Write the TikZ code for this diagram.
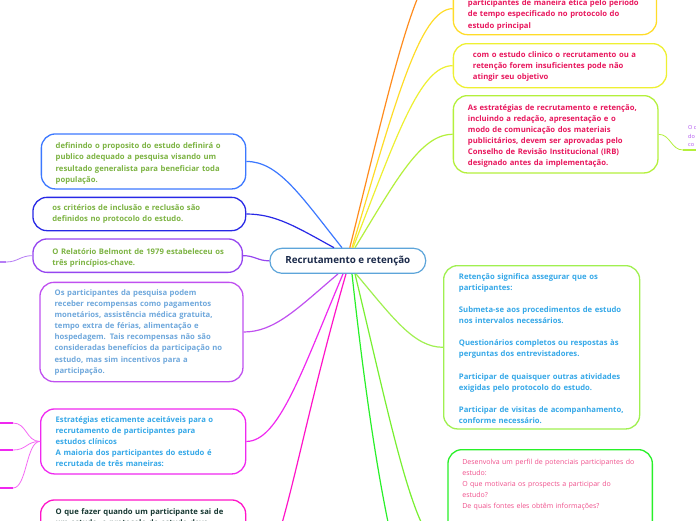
\documentclass[tikz,border=0pt]{standalone}
\usepackage{fontspec}
\setmainfont{Open Sans}
\usepackage{tikz}
\usetikzlibrary{positioning}
\definecolor{TopicLine}{HTML}{5DA5DA}
\definecolor{TopicText}{HTML}{1B2A4A}
\definecolor{Laranja}{HTML}{FF8C1E}
\definecolor{Ouro}{HTML}{FFDC28}
\definecolor{Amarelo}{HTML}{EEF032}
\definecolor{Lima}{HTML}{B4F03C}
\definecolor{VerdeClaro}{HTML}{A0F050}
\definecolor{VerdeLima}{HTML}{78F032}
\definecolor{Verde}{HTML}{28F028}
\definecolor{Azul}{HTML}{3C78FF}
\definecolor{Anil}{HTML}{2828E6}
\definecolor{Roxo}{HTML}{9646F0}
\definecolor{Violeta}{HTML}{C050F0}
\definecolor{Magenta}{HTML}{F028F0}
\definecolor{Rosa}{HTML}{FF14C8}
\definecolor{TextoCarmim}{HTML}{E8175D}
\definecolor{TextoOliva}{HTML}{7CB342}
\definecolor{TextoAco}{HTML}{6FA8DC}
\definecolor{TextoCeu}{HTML}{35A8E8}
\definecolor{TextoEscuro}{HTML}{173832}
\definecolor{TextoRosa}{HTML}{F0508C}
\definecolor{TextoLilas}{HTML}{B050F0}

\begin{document}
\begin{tikzpicture}[x=1pt, y=-1pt,
    topic/.style={draw=TopicLine, line width=1.2pt, rounded corners=12pt, fill=white, minimum width=155.7pt, minimum height=25pt, inner sep=0pt, text=TopicText, font=\bfseries\fontsize{9.8}{11}\selectfont},
    card/.style={line width=1.3pt, rounded corners=14pt, fill=white, anchor=north west, align=left, inner ysep=0pt, font=\bfseries\fontsize{7.7}{11.1}\selectfont},
    pad/.style 2 args={text height=#1, text depth=#2},
    link/.style={line width=1.2pt},
    twig/.style={line width=0.8pt},
    stub/.style={line width=2.6pt}
  ]
  \fill[white] (0,0) rectangle (696,520);
  \useasboundingbox (0,0) rectangle (696,520);

  % Tópico central
  \node[topic] (topico) at (347.8,260.8) {Recrutamento e retenção};

  % Ramos à direita
  \node[card, draw=Ouro, text=TextoCarmim, text width=174pt, inner xsep=14.6pt, pad={23.2pt}{28.8pt}] (etica) at (452.7,-18)
    {participantes de maneira ética pelo período\\de tempo especificado no protocolo do\\estudo principal};
  \node[card, draw=Amarelo, text=TextoCarmim, text width=174pt, inner xsep=19.6pt, pad={13.8pt}{30.2pt}] (insuf) at (452.7,43)
    {com o estudo clinico o recrutamento ou a\\retenção forem insuficientes pode não\\atingir seu objetivo};
  \node[card, draw=Lima, text=TextoCarmim, text width=175.4pt, inner xsep=14.6pt, pad={14.8pt}{62.5pt}] (irb) at (452.7,95)
    {As estratégias de recrutamento e retenção,\\incluindo a redação, apresentação e o\\modo de comunicação dos materiais\\publicitários, devem ser aprovadas pelo\\Conselho de Revisão Institucional (IRB)\\designado antes da implementação.};
  \node[card, draw=VerdeClaro, text=TextoCeu, text width=165.4pt, inner xsep=15.3pt, pad={13.5pt}{149.8pt}] (retencao) at (443,265)
    {Retenção significa assegurar que os\\participantes:\\[11.1pt]Submeta-se aos procedimentos de estudo\\nos intervalos necessários.\\[11.1pt]Questionários completos ou respostas às\\perguntas dos entrevistadores.\\[11.1pt]Participar de quaisquer outras atividades\\exigidas pelo protocolo do estudo.\\[11.1pt]Participar de visitas de acompanhamento,\\conforme necessário.};
  \node[card, draw=Verde, text=TextoRosa, text width=175.6pt, inner xsep=14.4pt, pad={14.5pt}{187.5pt}, font=\mdseries\fontsize{7}{11.2}\selectfont] (perfil) at (447.3,449)
    {Desenvolva um perfil de potenciais participantes do\\estudo:\\O que motivaria os prospects a participar do\\estudo?\\De quais fontes eles obtêm informações?};

  % Ramos à esquerda
  \node[card, draw=Azul, text=TextoOliva, text width=175.7pt, inner xsep=14.3pt, pad={14.9pt}{40.1pt}] (proposito) at (40.7,133.3)
    {definindo o proposito do estudo definirá o\\publico adequado a pesquisa visando um\\resultado generalista para beneficiar toda\\população.};
  \node[card, draw=Anil, text=TextoOliva, text width=173.9pt, inner xsep=19.4pt, pad={13.5pt}{19.8pt}] (criterios) at (32.3,196.7)
    {os critérios de inclusão e reclusão são\\definidos no protocolo do estudo.};
  \node[card, draw=Roxo, text=TextoOliva, text width=170.6pt, inner xsep=19.4pt, pad={15.2pt}{18.2pt}] (belmont) at (32.3,238.3)
    {\mbox{O Relatório Belmont de 1979 estabeleceu os}\\três princípios-chave.};
  \node[card, draw=Violeta, text=TextoAco, text width=173.6pt, inner xsep=14.7pt, pad={13.1pt}{86.2pt}] (recompensas) at (39.3,281.7)
    {Os participantes da pesquisa podem\\receber recompensas como pagamentos\\monetários, assistência médica gratuita,\\tempo extra de férias, alimentação e\\hospedagem. Tais recompensas não são\\consideradas benefícios da participação no\\estudo, mas sim incentivos para a\\participação.};
  \node[card, draw=Magenta, text=TextoCeu, text width=175pt, inner xsep=15pt, pad={13.2pt}{51.8pt}] (estrategias) at (40,408.3)
    {Estratégias eticamente aceitáveis para o\\recrutamento de participantes para\\estudos clínicos\\A maioria dos participantes do estudo é\\recrutada de três maneiras:};
  \node[card, draw=Rosa, text=TextoEscuro, text width=175pt, inner xsep=15pt, pad={14.2pt}{157.5pt}] (saida) at (40,499.3)
    {O que fazer quando um participante sai de\\um estudo, o protocolo do estudo deve};

  % Pontas soltas
  \coordinate (laranjafim) at (452,-45);
  \coordinate (verdefim) at (448,660);
  \coordinate (irbfilho) at (683,150);
  \coordinate (belmontfilho) at (6,262);
  \coordinate (via1) at (13,423);
  \coordinate (via2) at (13,450);
  \coordinate (via3) at (13,488);

  % Ligações de cima
  \draw[link, Laranja] ([xshift=2pt]topico.north) .. controls +(44,-176) and +(-34,0) .. (laranjafim);
  \draw[link, Ouro] ([xshift=4.2pt]topico.north) .. controls +(43,-144) and +(-33,0) .. (etica.west);
  \draw[link, Amarelo] ([xshift=5.2pt]topico.north) .. controls +(43,-110) and +(-33,0) .. (insuf.west);
  \draw[link, Lima] ([xshift=7.2pt]topico.north) .. controls +(42,-69) and +(-32,0) .. (irb.west);
  \draw[link, Azul] ([xshift=-5.8pt]topico.north) .. controls +(-42,-53) and +(32,0) .. (proposito.east);
  \draw[link, Anil] ([xshift=-13.8pt]topico.north) .. controls +(-38,-21) and +(29,0) .. (criterios.east);
  \draw[link, Roxo] (topico.west) .. controls +(-12,0) and +(12,0) .. (belmont.east);

  % Ligações de baixo
  \draw[link, Violeta] ([xshift=-9.8pt]topico.south) .. controls +(-41,35) and +(31,0) .. (recompensas.east);
  \draw[link, Magenta] ([xshift=-4.8pt]topico.south) .. controls +(-42,100) and +(32,0) .. (estrategias.east);
  \draw[link, Rosa] ([xshift=-1.8pt]topico.south) .. controls +(-54,187) and +(33,0) .. (saida.east);
  \draw[link, VerdeClaro] ([xshift=8.2pt]topico.south) .. controls +(37,44) and +(-29,0) .. (retencao.west);
  \draw[link, VerdeLima] ([xshift=7.2pt]topico.south) .. controls +(40,167) and +(-31,0) .. (perfil.west);
  \draw[link, Verde] ([xshift=4.2pt]topico.south) .. controls +(16,147) and +(-48,0) .. (verdefim);

  % Subtópicos cortados na borda
  \draw[twig, Lima] (irb.east) .. controls +(12,0) and +(-12,0) .. (irbfilho);
  \draw[stub, Lima] (irbfilho) -- ++(20,0);
  \node[anchor=south west, align=left, inner sep=0pt, text=TextoLilas, font=\fontsize{5.5}{8.5}\selectfont] (irbtexto) at (688,147) {O c\\do\\co};
  \draw[twig, Roxo!70] (belmont.west) .. controls +(-12,0) and +(12,0) .. (belmontfilho);
  \draw[stub, Roxo!70] (belmontfilho) -- ++(-20,0);
  \foreach \v in {via1, via2, via3} {
    \draw[twig, Magenta!70] (estrategias.west) .. controls +(-14,0) and +(14,0) .. (\v);
    \draw[stub, Magenta] (\v) -- ++(-20,0);
  }
\end{tikzpicture}
\end{document}
